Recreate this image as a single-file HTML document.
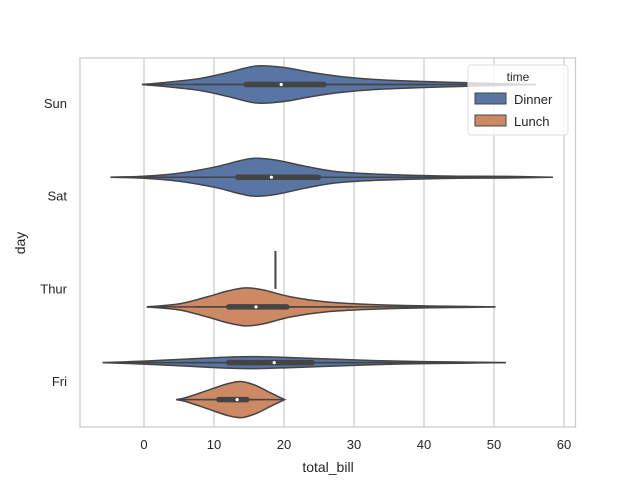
<!DOCTYPE html>
<html><head><meta charset="utf-8"><style>
body{margin:0;background:#fff}
svg{display:block;font-family:"Liberation Sans",sans-serif}
</style></head><body>
<svg id="chart" width="640" height="480">
<rect x="0" y="0" width="640" height="480" fill="#fff"/>
<g id="grid"></g>
<g id="violins"></g>
<rect x="80" y="58" width="495.5" height="369" fill="none" stroke="#ccc" stroke-width="1.25"/>
<g id="xticks" font-size="13" fill="#262626"></g>
<g id="yticks" font-size="13" fill="#262626"></g>
<text x="328" y="472" font-size="14" text-anchor="middle" fill="#262626">total_bill</text>
<text transform="translate(25,243) rotate(-90)" font-size="14" text-anchor="middle" fill="#262626">day</text>
<g>
<rect x="468" y="65" width="100" height="70" rx="3" fill="#fff" fill-opacity="0.8" stroke="#ddd"/>
<text x="518" y="81" font-size="12" text-anchor="middle" fill="#262626">time</text>
<rect x="475" y="93" width="31" height="11" fill="#5875a4" stroke="#444"/>
<text x="514" y="104" font-size="13" fill="#262626">Dinner</text>
<rect x="475" y="115" width="31" height="11" fill="#cc8963" stroke="#444"/>
<text x="514" y="126" font-size="13" fill="#262626">Lunch</text>
</g>
</svg>
<script>
const xTicks=[0,10,20,30,40,50,60];
const days=["Sun","Sat","Thur","Fri"];
const sunX=[-0.3,3,8,12,16,20,24,28,33,40,45,50,56];
const sunD=[0,2,6,12,18.5,17,12,8,5,3,2,1,0];
const sunBox=[7,14.6,19.6,25.7,40.4];
const satX=[-4.8,0,5,10,14,16,19,23,27,32,38,45,52,58.4];
const satD=[0,1,4,10,17,19,17,11,6,3.5,2,1,0.8,0];
const satBox=[2.7,13.4,18.2,24.9,39.4];
const thurLX=[0.4,5,9,12,14.5,17,21,26,32,40,46,50.2];
const thurLD=[0,3,10,16,19,17,10,5,2.5,1,0.5,0];
const thurLBox=[7.3,12.1,16,20.4,29.9];
const thurDinnerValue=18.78;
const friDX=[-5.9,0,6,12,16,21,27,33,40,46,51.7];
const friDD=[0,1.5,3.5,5.5,6,5,3.5,2,1,0.5,0];
const friDBox=[5.4,12.1,18.6,24,33.7];
const friLX=[4.6,6,9,12,14,16,18,19.5,20.1];
const friLD=[0,2,9,16,18,14,7,2,0];
const friLBox=[8.4,10.7,13.3,14.7,16.2];

const NS="http://www.w3.org/2000/svg";
const xs=v=>144+v*7;
const dayY=i=>103+i*92.7;
function mk(t,a,p){const e=document.createElementNS(NS,t);for(const k in a)e.setAttribute(k,a[k]);p.appendChild(e);return e;}
const grid=document.getElementById('grid'),xt=document.getElementById('xticks'),yt=document.getElementById('yticks'),vg=document.getElementById('violins');
xTicks.forEach(t=>{
  const l=mk('line',{x1:xs(t),x2:xs(t),y1:58,y2:427,stroke:'#ccc','stroke-width':1.25},grid);
  
  
  const tx=mk('text',{x:xs(t),y:449,'text-anchor':'middle'},xt);tx.textContent=t;
  
  
});
days.forEach((d,i)=>{
  const tx=mk('text',{x:67,y:dayY(i)+5,'text-anchor':'end'},yt);tx.textContent=d;
  
  
});
function spline(pts){
  let d='M'+pts[0][0]+','+pts[0][1];
  for(let i=0;i<pts.length-1;i++){
    const p0=pts[Math.max(0,i-1)],p1=pts[i],p2=pts[i+1],p3=pts[Math.min(pts.length-1,i+2)];
    const c1=[p1[0]+(p2[0]-p0[0])/6,p1[1]+(p2[1]-p0[1])/6],c2=[p2[0]-(p3[0]-p1[0])/6,p2[1]-(p3[1]-p1[1])/6];
    d+='C'+c1+' '+c2+' '+p2;
  }
  return d;
}
function violin(X,D,box,cy,fill,name){
  const top=X.map((x,i)=>[xs(x),cy-D[i]]);
  const bot=X.map((x,i)=>[xs(x),cy+D[i]]).reverse();
  const d=spline(top)+'L'+spline(bot).slice(1)+'Z';
  const g=mk('g',{},vg);
  
  
  mk('path',{d:d,fill:fill,stroke:'#444','stroke-width':1.5},g);
  mk('line',{x1:xs(X[0]),x2:xs(X[X.length-1]),y1:cy,y2:cy,stroke:'#444','stroke-width':1.5},g);
  mk('line',{x1:xs(box[0]),x2:xs(box[4]),y1:cy,y2:cy,stroke:'#444','stroke-width':1.5},g);
  mk('line',{x1:xs(box[1]),x2:xs(box[3]),y1:cy,y2:cy,stroke:'#444','stroke-width':5.5,'stroke-linecap':'round'},g);
  mk('circle',{cx:xs(box[2]),cy:cy,r:1.6,fill:'#fff'},g);
}
const off=18.5;
violin(sunX,sunD,sunBox,dayY(0)-off,'#5875a4','violin-sun-dinner');
violin(satX,satD,satBox,dayY(1)-off,'#5875a4','violin-sat-dinner');
violin(thurLX,thurLD,thurLBox,dayY(2)+off,'#cc8963','violin-thur-lunch');
const tl=mk('line',{x1:xs(thurDinnerValue),x2:xs(thurDinnerValue),y1:dayY(2)-off-19,y2:dayY(2)-off+19,stroke:'#444','stroke-width':2},vg);


violin(friDX,friDD,friDBox,dayY(3)-off,'#5875a4','violin-fri-dinner');
violin(friLX,friLD,friLBox,dayY(3)+off,'#cc8963','violin-fri-lunch');
</script>
</body></html>
